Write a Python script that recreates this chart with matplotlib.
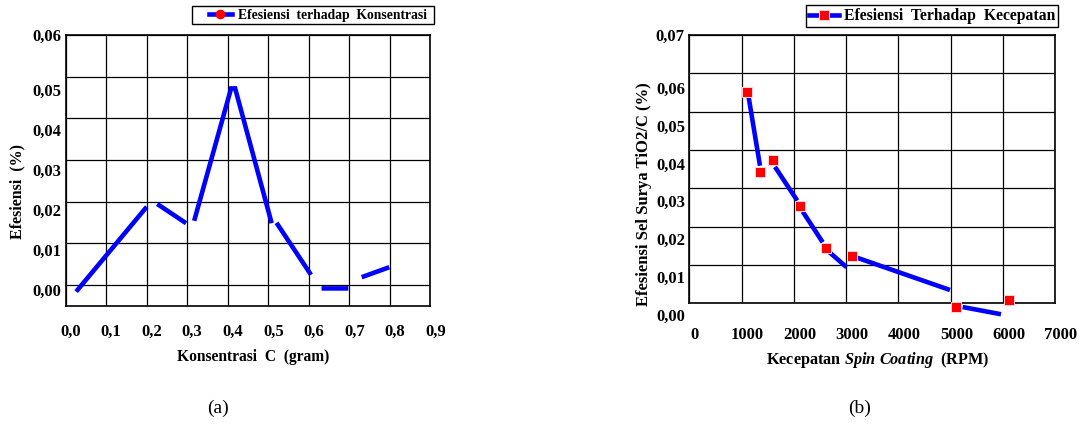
import numpy as np
import matplotlib
matplotlib.use("Agg")
import matplotlib.pyplot as plt
from matplotlib.lines import Line2D
from matplotlib.patches import Rectangle

# ---------------- data ----------------
# (a) efficiency vs carbon concentration
conc_ticks = [0.0, 0.1, 0.2, 0.3, 0.4, 0.5, 0.6, 0.7, 0.8, 0.9]
conc_tick_labels = ["0,0", "0,1", "0,2", "0,3", "0,4", "0,5", "0,6", "0,7", "0,8", "0,9"]
eff_a_ticks = [0.00, 0.01, 0.02, 0.03, 0.04, 0.05]
eff_a_labels = ["0,00", "0,01", "0,02", "0,03", "0,04", "0,05"]
eff_a_grid = [0.00, 0.01, 0.02, 0.03, 0.04, 0.05, 0.06]
eff_a_grid_labels = ["", "", "", "", "", "", "0,06"]
# broken line as drawn in the source (gaps at the data points)
conc_line_x = [0.014, 0.188, np.nan, 0.214, 0.285, np.nan, 0.305, 0.396, 0.406, 0.496,
               np.nan, 0.508, 0.593, np.nan, 0.619, 0.685, np.nan, 0.718, 0.786]
conc_line_y = [-0.0004, 0.0208, np.nan, 0.0215, 0.0167, np.nan, 0.0173, 0.0504, 0.0504, 0.0167,
               np.nan, 0.0168, 0.0038, np.nan, 0.0004, 0.0004, np.nan, 0.0032, 0.0057]

# (b) efficiency vs spin-coating speed
speed_ticks = [0, 1000, 2000, 3000, 4000, 5000, 6000, 7000]
speed_tick_labels = ["0", "1000", "2000", "3000", "4000", "5000", "6000", "7000"]
eff_b_ticks = [0.00, 0.01, 0.02, 0.03, 0.04, 0.05, 0.06]
eff_b_labels = ["0,00", "0,01", "0,02", "0,03", "0,04", "0,05", "0,06"]
eff_b_grid = [0.00, 0.01, 0.02, 0.03, 0.04, 0.05, 0.06, 0.07]
eff_b_grid_labels = ["", "", "", "", "", "", "", "0,07"]
speed = [1000, 1250, 1500, 2000, 2500, 3000, 5000, 6000]
eff_speed = [0.0589, 0.0378, 0.0408, 0.0288, 0.0177, 0.0156, 0.0021, 0.0040]
speed_line_x = [1027, 1243, np.nan, 1530, 1956, np.nan, 2060, 2442, np.nan, 2543, 2901,
                np.nan, 3104, 4877, np.nan, 5119, 5852]
speed_line_y = [0.0574, 0.0394, np.nan, 0.0391, 0.0302, np.nan, 0.0273, 0.0192, np.nan, 0.0169, 0.0126,
                np.nan, 0.0151, 0.0066, np.nan, 0.0021, 0.0002]

# ---------------- style ----------------
plt.rcParams["font.family"] = ["Liberation Serif", "DejaVu Serif"]
plt.rcParams["font.weight"] = "bold"
plt.rcParams["mathtext.fontset"] = "custom"
plt.rcParams["mathtext.rm"] = "Liberation Serif"
plt.rcParams["mathtext.it"] = "Liberation Serif:italic"
plt.rcParams["mathtext.bf"] = "Liberation Serif:bold"

W, H = 1080, 424
fig = plt.figure(figsize=(W / 100, H / 100), dpi=100)
fig.patch.set_facecolor("white")

BLUE = "#0000ff"
RED = "#ff0000"
TICK_FS = 12
LW = 3.3


def box(l, r, t, b):
    return [l / W, 1 - b / H, (r - l) / W, (b - t) / H]


def make_bg(rect, xlim, ylim, xt, yt, ytl):
    ax = fig.add_axes(rect)
    ax.set_xlim(*xlim)
    ax.set_ylim(*ylim)
    ax.set_xticks(xt)
    ax.set_xticklabels([""] * len(xt))
    ax.set_yticks(yt)
    ax.set_yticklabels(ytl)
    ax.grid(True, color="black", linewidth=0.9)
    ax.set_axisbelow(True)
    ax.tick_params(length=0, labelsize=TICK_FS, pad=3.4)
    for s in ax.spines.values():
        s.set_linewidth(1.2)
        s.set_color("black")
    return ax


def make_fg(rect, xlim, ylim, xt, xtl, yt, ytl, xpad, ypad):
    ax = fig.add_axes(rect)
    ax.set_xlim(*xlim)
    ax.set_ylim(*ylim)
    ax.patch.set_visible(False)
    for s in ax.spines.values():
        s.set_visible(False)
    ax.set_xticks(xt)
    ax.set_xticklabels(xtl)
    ax.set_yticks(yt)
    ax.set_yticklabels(ytl)
    ax.tick_params(length=0, labelsize=TICK_FS)
    ax.tick_params(axis="x", pad=xpad)
    ax.tick_params(axis="y", pad=ypad)
    return ax


# ---------------- panel (a) ----------------
bg_a = make_bg(box(65.7, 430.3, 35, 306), (0, 0.9), (-0.00504, 0.06),
               conc_ticks, eff_a_grid, eff_a_grid_labels)
fg_a = make_fg(box(65.7, 435.5, 50, 306), (-0.0118, 0.9), (-0.004, 0.06),
               conc_ticks, conc_tick_labels, eff_a_ticks, eff_a_labels, 13.0, 3.4)
fg_a.plot(conc_line_x, conc_line_y, color=BLUE, linewidth=LW,
          solid_capstyle="butt", solid_joinstyle="miter", clip_on=False)

fig.text(253 / W, 1 - 357 / H, "Konsentrasi  C  (gram)", ha="center", va="center",
         fontsize=11.2, fontweight="bold")
fig.text(17.3 / W, 1 - 191.7 / H, "Efesiensi  (%)", ha="center", va="center",
         rotation=90, fontsize=11.5, fontweight="bold")

h_a = Line2D([], [], color=BLUE, linewidth=LW, marker="o", markersize=6,
             markerfacecolor=RED, markeredgecolor=RED)
leg_a = fig.legend(handles=[h_a], labels=["Efesiensi  terhadap  Konsentrasi"],
                   loc="upper right", bbox_to_anchor=(429.5 / W, 1 - 6 / H),
                   borderaxespad=0, frameon=False, borderpad=0.2, handlelength=1.75,
                   handletextpad=0.4, prop={"family": "Liberation Serif",
                                            "weight": "bold", "size": 9.8})
fig.patches.append(Rectangle((192.3 / W, 1 - 24.3 / H), (434.3 - 192.3) / W, 18.3 / H,
                             transform=fig.transFigure, fill=False,
                             edgecolor="black", linewidth=1.0))

# ---------------- panel (b) ----------------
bg_b = make_bg(box(689.3, 1055.3, 35, 303.3), (0, 7000), (0, 0.07),
               speed_ticks, eff_b_grid, eff_b_grid_labels)
fg_b = make_fg(box(689.3, 1061, 87.7, 315), (-109, 7000), (0, 0.06),
               speed_ticks, speed_tick_labels, eff_b_ticks, eff_b_labels, 8.7, 2.6)
fg_b.plot(speed_line_x, speed_line_y, color=BLUE, linewidth=LW,
          solid_capstyle="butt", clip_on=False, zorder=2)
fg_b.plot(speed, eff_speed, linestyle="none", marker="s", markersize=7,
          markerfacecolor=RED, markeredgecolor="#ffd6d6", markeredgewidth=0.7,
          clip_on=False, zorder=3)

fig.text(877.5 / W, 1 - 360 / H, r"Kecepatan $\mathit{Spin\ Coating}$  (RPM)",
         ha="center", va="center", fontsize=11.7, fontweight="bold")
fig.text(644 / W, 1 - 194 / H, "Efesiensi Sel Surya TiO2/C (%)", ha="center",
         va="center", rotation=90, fontsize=12, fontweight="bold")

h_b = Line2D([], [], color=BLUE, linewidth=LW, marker="s", markersize=7,
             markerfacecolor=RED, markeredgecolor="#ffd6d6", markeredgewidth=0.7)
leg_b = fig.legend(handles=[h_b], labels=["Efesiensi  Terhadap  Kecepatan"],
                   loc="upper right", bbox_to_anchor=(1058.3 / W, 1 - 5 / H),
                   borderaxespad=0, frameon=True, fancybox=False, framealpha=1,
                   edgecolor="black", borderpad=0.2, handlelength=1.9,
                   handletextpad=0.3, prop={"family": "Liberation Serif",
                                            "weight": "bold", "size": 11.3})
leg_b.get_frame().set_linewidth(1.0)

# ---------------- captions ----------------
fig.text(218 / W, 1 - 408 / H, "(a)", ha="center", va="center", fontsize=14,
         fontweight="normal")
fig.text(860 / W, 1 - 408 / H, "(b)", ha="center", va="center", fontsize=14,
         fontweight="normal")

fig.savefig("out.png", dpi=100, facecolor="white")
